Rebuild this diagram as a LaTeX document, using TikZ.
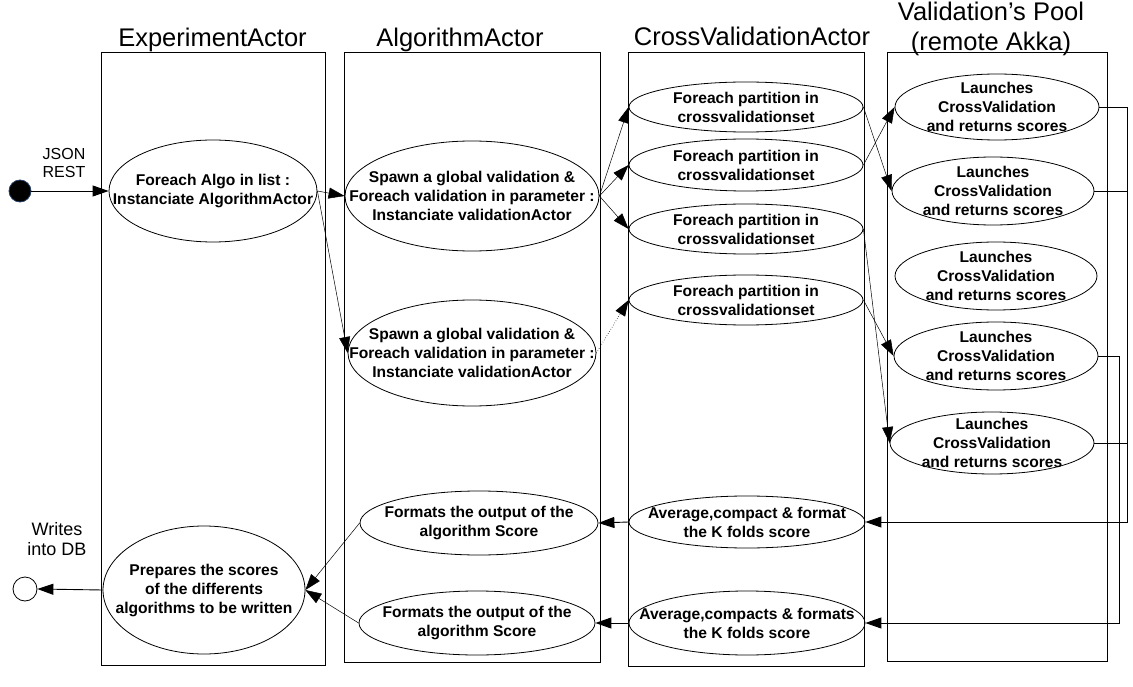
\documentclass[tikz,border=0pt]{standalone}
\usepackage{fontspec}
\setmainfont{Liberation Sans}
\usepackage{tikz}
\usetikzlibrary{arrows.meta,shapes.geometric}
\definecolor{StartBlue}{RGB}{38,64,104}

\begin{document}
\begin{tikzpicture}[x=1pt,y=-1pt,>={Triangle[length=16pt,width=11pt]},
  lane/.style={draw,line width=0.9pt},
  lanetitle/.style={font=\fontsize{25.5}{30}\selectfont,inner sep=0pt},
  usecase/.style={ellipse,draw,line width=0.8pt,inner sep=0pt},
  casetext/.style={font=\fontsize{15.6}{19}\selectfont\bfseries,align=center,inner sep=0pt},
  note/.style={font=\fontsize{16}{18}\selectfont,align=center,inner sep=0pt},
  link/.style={line width=0.9pt},
  flow/.style={link,->},
  fine/.style={->,line width=0.5pt}]
  \useasboundingbox (0,0) rectangle (1133,687);
  \draw[lane] (101,52) rectangle (325,665);
  \draw[lane] (344,52) rectangle (600,662);
  \draw[lane] (628,52) rectangle (864,666);
  \draw[lane] (887,52) rectangle (1107,661);
  \node[lanetitle,anchor=base] (expTitle) at (212.5,47) {ExperimentActor};
  \node[lanetitle,anchor=base] (algoTitle) at (460,47) {AlgorithmActor};
  \node[lanetitle,anchor=base] (cvTitle) at (752,46) {CrossValidationActor};
  \node[lanetitle,align=center] (poolTitle) at (991,29) {Validation’s Pool\\(remote Akka)};

  \node[circle,fill=black,draw=StartBlue,line width=0.8pt,minimum size=22,inner sep=0pt] (start) at (20,191) {};
  \node[note] (json) at (64,163) {JSON\\REST};
  \node[circle,draw,line width=0.8pt,minimum size=24,inner sep=0pt] (stop) at (25,589) {};
  \node[note,font=\fontsize{18}{20}\selectfont] (writes) at (57,539) {Writes\\into DB};

  \node[usecase,minimum width=208,minimum height=102,label={[casetext]center:{Foreach Algo in list :\\Instanciate AlgorithmActor}}] (foreach) at (213,191) {};
  \node[usecase,minimum width=202,minimum height=128,label={[casetext]center:{Prepares the scores\\of the differents\\algorithms to be written}}] (prep) at (204,590) {};

  \node[usecase,minimum width=254,minimum height=110,label={[casetext]center:{Spawn a global validation \&\\Foreach validation in parameter :\\Instanciate validationActor}}] (spawnA) at (472,196) {};
  \node[usecase,minimum width=248,minimum height=106,label={[casetext]center:{Spawn a global validation \&\\Foreach validation in parameter :\\Instanciate validationActor}}] (spawnB) at (472,353) {};
  \node[usecase,minimum width=238,minimum height=64,label={[casetext]center:{Formats the output of the\\algorithm Score}}] (fmtA) at (479,523) {};
  \node[usecase,minimum width=236,minimum height=64,label={[casetext]center:{Formats the output of the\\algorithm Score}}] (fmtB) at (477,623) {};

  \node[usecase,minimum width=234,minimum height=50,label={[casetext]center:{Foreach partition in\\crossvalidationset}}] (partA) at (746,107) {};
  \node[usecase,minimum width=234,minimum height=52,label={[casetext]center:{Foreach partition in\\crossvalidationset}}] (partB) at (746,165) {};
  \node[usecase,minimum width=234,minimum height=50,label={[casetext]center:{Foreach partition in\\crossvalidationset}}] (partC) at (746,229) {};
  \node[usecase,minimum width=234,minimum height=50,label={[casetext]center:{Foreach partition in\\crossvalidationset}}] (partD) at (746,300) {};
  \node[usecase,minimum width=236,minimum height=52,label={[casetext]center:{Average,compact \& format\\the K folds score}}] (avgA) at (747,522) {};
  \node[usecase,minimum width=236,minimum height=64,label={[casetext]center:{Average,compacts \& formats\\the K folds score}}] (avgB) at (747,623) {};

  \node[usecase,minimum width=204,minimum height=66,label={[casetext]center:{Launches\\CrossValidation\\and returns scores}}] (launchA) at (997,107) {};
  \node[usecase,minimum width=202,minimum height=68,label={[casetext]center:{Launches\\CrossValidation\\and returns scores}}] (launchB) at (993,191) {};
  \node[usecase,minimum width=202,minimum height=68,label={[casetext]center:{Launches\\CrossValidation\\and returns scores}}] (launchC) at (996,276) {};
  \node[usecase,minimum width=204,minimum height=68,label={[casetext]center:{Launches\\CrossValidation\\and returns scores}}] (launchD) at (996,356) {};
  \node[usecase,minimum width=204,minimum height=62,label={[casetext]center:{Launches\\CrossValidation\\and returns scores}}] (launchE) at (992,443) {};

  \coordinate (busA) at (1127,0);
  \coordinate (busB) at (1119,0);

  \draw[flow] (start) -- (foreach);
  \draw[fine] (foreach.east) -- (spawnA.west);
  \draw[fine] (foreach.east) -- (spawnB.west);
  \draw[fine] (spawnA.east) -- (partA.west);
  \draw[fine] (spawnA.east) -- (partB.west);
  \draw[fine] (spawnA.east) -- (partC.west);
  \draw[fine,dotted,line width=0.7pt] (spawnB.east) -- (partD.west);
  \draw[fine] (partA.east) -- (launchB.west);
  \draw[fine] (partB.east) -- (launchA.west);
  \draw[fine] (partC.east) -- (launchE.west);
  \draw[fine] (partD.east) -- (launchD.west);
  \draw[flow] (launchA.east) -| (busA |- avgA.east) -- (avgA.east);
  \draw[link] (launchB.east) -- (busA |- launchB.east);
  \draw[link] (launchE.east) -- (busA |- launchE.east);
  \draw[flow] (launchD.east) -| (busB |- avgB.east) -- (avgB.east);
  \draw[flow] (avgA.west) -- (fmtA.east);
  \draw[flow] (avgB.west) -- (fmtB.east);
  \draw[fine] (fmtA.west) -- (prep.east);
  \draw[fine] (fmtB.west) -- (prep.east);
  \draw[flow] (prep.west) -- (stop.east);
\end{tikzpicture}
\end{document}
